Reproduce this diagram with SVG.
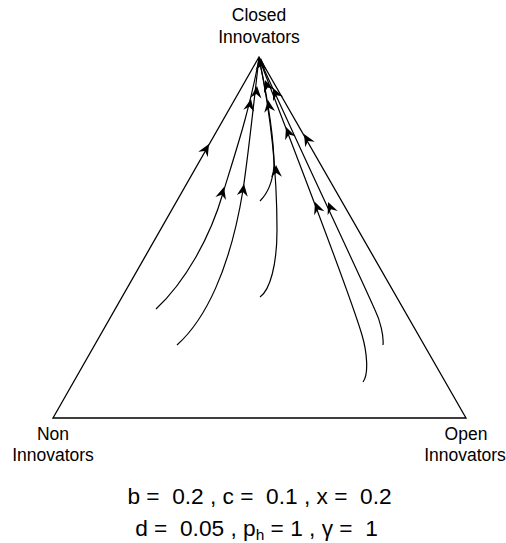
<svg xmlns="http://www.w3.org/2000/svg" xmlns:xlink="http://www.w3.org/1999/xlink" width="506" height="543" viewBox="0 0 506 543">
<style>
.lbl{font-family:"Liberation Sans",Arial,sans-serif;font-size:17.5px;fill:#000;text-anchor:middle}
.eq{font-family:"Liberation Sans",Arial,sans-serif;font-size:22.7px;fill:#000;text-anchor:middle;white-space:pre}
.tr{fill:none;stroke:#000;stroke-width:1.2}
.edge{fill:none;stroke:#000;stroke-width:1.3}
</style>
<defs>
<path id="ah" d="M0,0 L-12,-5.5 L-8,0 L-12,5.5 Z" fill="#000"/>
</defs>
<rect width="506" height="543" fill="#fff"/>
<g id="triangle">
<path class="edge" d="M259,57 L53,418 L466,418 Z"/>
</g>
<g id="labels">
<text class="lbl" x="259" y="21">Closed</text>
<text class="lbl" x="259" y="43">Innovators</text>
<text class="lbl" x="53" y="440">Non</text>
<text class="lbl" x="53" y="461">Innovators</text>
<text class="lbl" x="466" y="440">Open</text>
<text class="lbl" x="465" y="461">Innovators</text>
<text class="eq" x="259.5" y="504">b =  0.2 , c =  0.1 , x =  0.2</text>
<text class="eq" x="256.5" y="536">d =  0.05 , p<tspan font-size="15.5" dy="4">h</tspan><tspan dy="-4"> = 1 , γ =  1</tspan></text>
</g>
<g id="connectors">
<path class="tr" d="M156,309 C185,282 210,238 223,193 C233,160 250,110 259,58"/>
<path class="tr" d="M177,345 C205,320 230,270 243,190 C249,150 254,100 259,58"/>
<path class="tr" d="M260,201 C268,193 273,180 274,165 C274,140 270,110 259,58"/>
<path class="tr" d="M260,297 C270,290 277,265 277,230 C277,185 274,130 259,58"/>
<path class="tr" d="M363,382 C369,374 367,352 362,335 C348,288 300,165 259,58"/>
<path class="tr" d="M383,345 C384,336 380,320 375,310 C355,265 305,160 259,58"/>
<use xlink:href="#ah" transform="translate(209,144) rotate(-60)"/>
<use xlink:href="#ah" transform="translate(304,134) rotate(-120)"/>
<use xlink:href="#ah" transform="translate(224,187) rotate(-74)"/>
<use xlink:href="#ah" transform="translate(251,99) rotate(-79)"/>
<use xlink:href="#ah" transform="translate(244,184) rotate(-82)"/>
<use xlink:href="#ah" transform="translate(257,86) rotate(-85)"/>
<use xlink:href="#ah" transform="translate(276,165) rotate(-92)"/>
<use xlink:href="#ah" transform="translate(268,100) rotate(-98)"/>
<use xlink:href="#ah" transform="translate(315,202) rotate(-111)"/>
<use xlink:href="#ah" transform="translate(286,127) rotate(-111)"/>
<use xlink:href="#ah" transform="translate(328,202) rotate(-113)"/>
<use xlink:href="#ah" transform="translate(273,88) rotate(-115)"/>
<use xlink:href="#ah" transform="translate(265,80) rotate(-110)"/>
<use xlink:href="#ah" transform="translate(261,58) rotate(-90)"/>
</g>
</svg>
